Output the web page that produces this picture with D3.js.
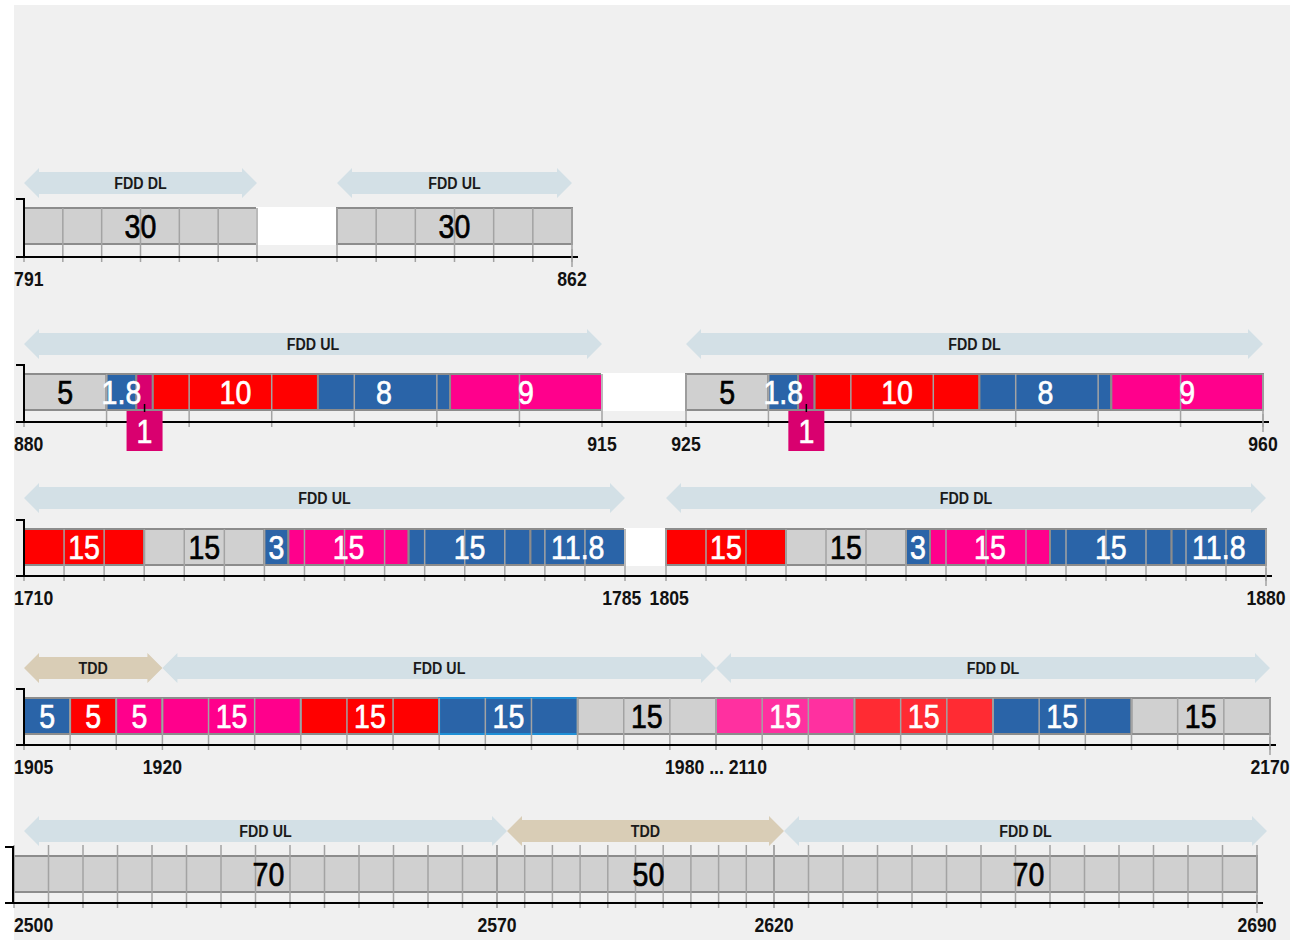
<!DOCTYPE html>
<html>
<head>
<meta charset="utf-8">
<script src="https://cdnjs.cloudflare.com/ajax/libs/d3/7.8.5/d3.min.js"></script>
<style>
  body { margin: 0; background: #fff; }
  svg { display: block; }
  text { font-family: "Liberation Sans", Arial, sans-serif; }
</style>
</head>
<body>
<div class="chart"></div>
<script>
// band plans in MHz: [start, end, label, colour key]
// scale break points (the domain) per band
const band800Domain = [791, 821, 832, 862];
const band800Segments = [[791, 821], [832, 862]];
const band800Blocks = [
  [791, 821, "30", "grey"],
  [821, 832, "", "gap"],
  [832, 862, "30", "grey"]
];
const band800Arrows = [[791, 821, "FDD DL", "fdd"], [832, 862, "FDD UL", "fdd"]];
const band800Ticks = [[791, "791"], [862, "862"]];

const band900Domain = [880, 915, 925, 960];
const band900Segments = [[880, 915], [925, 960]];
const band900Blocks = [
  [880, 885, "5", "grey"],
  [885, 886.8, "1.8", "blue"],
  [886.8, 887.8, "", "pink"],
  [887.8, 897.8, "10", "red"],
  [897.8, 905.8, "8", "blue"],
  [905.8, 915, "9", "magenta"],
  [915, 925, "", "gap"],
  [925, 930, "5", "grey"],
  [930, 931.8, "1.8", "blue"],
  [931.8, 932.8, "", "pink"],
  [932.8, 942.8, "10", "red"],
  [942.8, 950.8, "8", "blue"],
  [950.8, 960, "9", "magenta"]
];
const band900Callouts = [[887.3, "1"], [932.3, "1"]];
const band900Arrows = [[880, 915, "FDD UL", "fdd"], [925, 960, "FDD DL", "fdd"]];
const band900Ticks = [[880, "880"], [915, "915"], [925, "925"], [960, "960"]];

const band1800Domain = [1710, 1785, 1805, 1880];
const band1800Segments = [[1710, 1785], [1805, 1880]];
const band1800Blocks = [
  [1710, 1725, "15", "red"],
  [1725, 1740, "15", "grey"],
  [1740, 1743, "3", "blue"],
  [1743, 1758, "15", "magenta"],
  [1758, 1773.2, "15", "blue"],
  [1773.2, 1785, "11.8", "blue"],
  [1785, 1805, "", "gap"],
  [1805, 1820, "15", "red"],
  [1820, 1835, "15", "grey"],
  [1835, 1838, "3", "blue"],
  [1838, 1853, "15", "magenta"],
  [1853, 1868.2, "15", "blue"],
  [1868.2, 1880, "11.8", "blue"]
];
const band1800Arrows = [[1710, 1785, "FDD UL", "fdd"], [1805, 1880, "FDD DL", "fdd"]];
const band1800Ticks = [[1710, "1710"], [1785, "1785"], [1805, "1805"], [1880, "1880"]];

const band2000Domain = [1905, 1980, 2110, 2170];
const band2000Segments = [[1905, 1980], [2110, 2170]];
const band2000Blocks = [
  [1905, 1910, "5", "blue"],
  [1910, 1915, "5", "red"],
  [1915, 1920, "5", "magenta"],
  [1920, 1935, "15", "magenta"],
  [1935, 1950, "15", "red"],
  [1950, 1965, "15", "blueLit"],
  [1965, 1980, "15", "grey"],
  [2110, 2125, "15", "magentaLight"],
  [2125, 2140, "15", "redLight"],
  [2140, 2155, "15", "blue"],
  [2155, 2170, "15", "grey"]
];
const band2000Arrows = [[1905, 1920, "TDD", "tdd"], [1920, 1980, "FDD UL", "fdd"], [2110, 2170, "FDD DL", "fdd"]];
const band2000Ticks = [[1905, "1905"], [1920, "1920"], [1980, "1980 ... 2110"], [2170, "2170"]];

const band2600Domain = [2500, 2570, 2620, 2690];
const band2600Segments = [[2500, 2570], [2570, 2620], [2620, 2690]];
const band2600Blocks = [
  [2500, 2570, "70", "grey"],
  [2570, 2620, "50", "grey"],
  [2620, 2690, "70", "grey"]
];
const band2600Arrows = [[2500, 2570, "FDD UL", "fdd"], [2570, 2620, "TDD", "tdd"], [2620, 2690, "FDD DL", "fdd"]];
const band2600Ticks = [[2500, "2500"], [2570, "2570"], [2620, "2620"], [2690, "2690"]];

// colours
const FILL = {
  grey: "#d0d0d0", gap: "#ffffff", red: "#ff0000", blue: "#2a64a8", blueLit: "#2a64a8",
  magenta: "#ff008c", pink: "#d9006f", magentaLight: "#ff30a0", redLight: "#ff2b33"
};
const EDGE = { gap: "#ffffff", blueLit: "#1f8fd6" };
const ARROW_FILL = { fdd: "#d3e0e6", tdd: "#d9cdb6" };

const W = 1294, H = 943;
const BAR_H = 36;
const NARROW = 0.84; // horizontal squeeze to mimic a narrow typeface

// layout of each band row
const rows = [
  { domain: band800Domain, range: [24, 257, 337, 572], segments: band800Segments, blocks: band800Blocks,
    arrows: band800Arrows, ticks: band800Ticks, arrowY: 183, barY: 208, axisY: 257, bracketX: 24 },
  { domain: band900Domain, range: [24, 602, 686, 1263], segments: band900Segments, blocks: band900Blocks,
    arrows: band900Arrows, ticks: band900Ticks, callouts: band900Callouts, arrowY: 344, barY: 374, axisY: 422, bracketX: 24 },
  { domain: band1800Domain, range: [24, 625, 666, 1266], segments: band1800Segments, blocks: band1800Blocks,
    arrows: band1800Arrows, ticks: band1800Ticks, arrowY: 498, barY: 529, axisY: 576, bracketX: 24 },
  { domain: band2000Domain, range: [24, 716, 716, 1270], segments: band2000Segments, blocks: band2000Blocks,
    arrows: band2000Arrows, ticks: band2000Ticks, arrowY: 668, barY: 698, axisY: 745, bracketX: 24 },
  { domain: band2600Domain, range: [14, 497, 774, 1257], segments: band2600Segments, blocks: band2600Blocks,
    arrows: band2600Arrows, ticks: band2600Ticks, arrowY: 831, barY: 856, axisY: 903, bracketX: 13,
    gridAbove: 11, arrowShift: 10, labelShift: 13 }
];

const svg = d3.select(".chart").append("svg")
  .attr("width", W)
  .attr("height", H);

// grey panel
svg.append("rect")
  .attr("x", 14).attr("y", 5)
  .attr("width", 1276).attr("height", 935)
  .attr("fill", "#f0f0f0");

// double headed arrow outline
function arrowPath(x0, x1, cy) {
  const h = 15, body = 11, head = 15;
  return `M${x0},${cy} L${x0 + h},${cy - head} L${x0 + h},${cy - body} L${x1 - h},${cy - body}
    L${x1 - h},${cy - head} L${x1},${cy} L${x1 - h},${cy + head} L${x1 - h},${cy + body}
    L${x0 + h},${cy + body} L${x0 + h},${cy + head} Z`;
}

// squeezed text placed at (x, y)
function narrow(x, y) {
  return `translate(${x},${y}) scale(${NARROW},1)`;
}

rows.forEach(function (row) {
  const x = d3.scaleLinear().domain(row.domain).range(row.range);
  const g = svg.append("g");
  const shift = row.arrowShift || 0;

  // band direction arrows
  const arrows = g.selectAll(".arrow")
    .data(row.arrows)
    .join("g")
    .attr("class", "arrow");
  arrows.append("path")
    .attr("d", d => arrowPath(x(d[0]) + shift, x(d[1]) + shift, row.arrowY))
    .attr("fill", d => ARROW_FILL[d[3]]);
  arrows.append("text")
    .attr("transform", d => narrow((x(d[0]) + x(d[1])) / 2 + shift, row.arrowY + 6))
    .attr("text-anchor", "middle")
    .attr("font-size", 17)
    .attr("font-weight", "bold")
    .attr("fill", "#1a1a1a")
    .text(d => d[2]);

  // operator blocks
  g.selectAll(".block")
    .data(row.blocks)
    .join("rect")
    .attr("class", "block")
    .attr("x", d => x(d[0]))
    .attr("y", row.barY)
    .attr("width", d => x(d[1]) - x(d[0]))
    .attr("height", BAR_H)
    .attr("fill", d => FILL[d[3]])
    .attr("stroke", d => EDGE[d[3]] || "#8c8c8c")
    .attr("stroke-width", 2);

  // 5 MHz grid
  const grid = [];
  row.segments.forEach(s => d3.range(s[0], s[1] + 0.01, 5).forEach(v => grid.push(v)));
  g.selectAll(".grid")
    .data(grid)
    .join("line")
    .attr("class", "grid")
    .attr("x1", d => x(d)).attr("x2", d => x(d))
    .attr("y1", row.barY - (row.gridAbove || 0))
    .attr("y2", row.axisY + 5)
    .attr("stroke", "#a3a3a3")
    .attr("stroke-width", 1.5);

  // axis line and left bracket
  const xEnd = row.range[row.range.length - 1];
  g.append("line")
    .attr("x1", row.bracketX - 8).attr("x2", xEnd + 6)
    .attr("y1", row.axisY).attr("y2", row.axisY)
    .attr("stroke", "#000").attr("stroke-width", 2);
  g.append("path")
    .attr("d", `M${row.bracketX - 8},${row.barY - 9} H${row.bracketX} V${row.axisY}`)
    .attr("fill", "none")
    .attr("stroke", "#000").attr("stroke-width", 2);
  g.append("line")
    .attr("x1", xEnd).attr("x2", xEnd)
    .attr("y1", row.axisY - 8).attr("y2", row.axisY + 10)
    .attr("stroke", "#a3a3a3").attr("stroke-width", 1.5);

  // block labels
  g.selectAll(".blabel")
    .data(row.blocks.filter(d => d[2] != ""))
    .join("text")
    .attr("class", "blabel")
    .attr("transform", d => narrow((x(d[0]) + x(d[1])) / 2 + (row.labelShift || 0), row.barY + BAR_H / 2 + 12))
    .attr("text-anchor", "middle")
    .attr("font-size", 34)
    .attr("fill", d => d[3] == "grey" ? "#000" : "#fff")
    .attr("stroke", d => d[3] == "grey" ? "#000" : "#fff")
    .attr("stroke-width", 0.7)
    .text(d => d[2]);

  // small callout boxes for narrow blocks
  if (row.callouts) {
    const c = g.selectAll(".callout")
      .data(row.callouts)
      .join("g")
      .attr("class", "callout");
    c.append("rect")
      .attr("x", d => x(d[0]) - 18)
      .attr("y", row.barY + BAR_H + 1)
      .attr("width", 36).attr("height", 40)
      .attr("fill", FILL.pink);
    c.append("line")
      .attr("x1", d => x(d[0])).attr("x2", d => x(d[0]))
      .attr("y1", row.barY + BAR_H - 6).attr("y2", row.barY + BAR_H + 2)
      .attr("stroke", "#000").attr("stroke-width", 1.5);
    c.append("text")
      .attr("transform", d => narrow(x(d[0]), row.barY + BAR_H + 33))
      .attr("text-anchor", "middle")
      .attr("font-size", 34)
      .attr("fill", "#fff")
      .attr("stroke", "#fff")
      .attr("stroke-width", 0.7)
      .text(d => d[1]);
  }

  // frequency labels, kept inside the panel and apart from each other
  const boxes = row.ticks.map(d => ({ t: d, cx: x(d[0]) }));
  const labels = g.selectAll(".tlabel")
    .data(boxes)
    .join("text")
    .attr("class", "tlabel")
    .attr("transform", d => narrow(d.cx, row.axisY + 29))
    .attr("text-anchor", "middle")
    .attr("font-size", 21)
    .attr("font-weight", "bold")
    .attr("fill", "#111")
    .text(d => d.t[1]);
  labels.each(function (d) { d.w = this.getBBox().width * NARROW; });
  boxes.forEach(b => {
    if (b.cx - b.w / 2 < 14) b.cx = 14 + b.w / 2;
    if (b.cx + b.w / 2 > 1290) b.cx = 1290 - b.w / 2;
  });
  for (let i = 1; i < boxes.length; i++) {
    const a = boxes[i - 1], b = boxes[i];
    const overlap = (a.cx + a.w / 2 + 8) - (b.cx - b.w / 2);
    if (overlap > 0) {
      a.cx -= overlap / 2;
      b.cx += overlap / 2;
    }
  }
  labels.attr("transform", d => narrow(d.cx, row.axisY + 29));
});
</script>
</body>
</html>
